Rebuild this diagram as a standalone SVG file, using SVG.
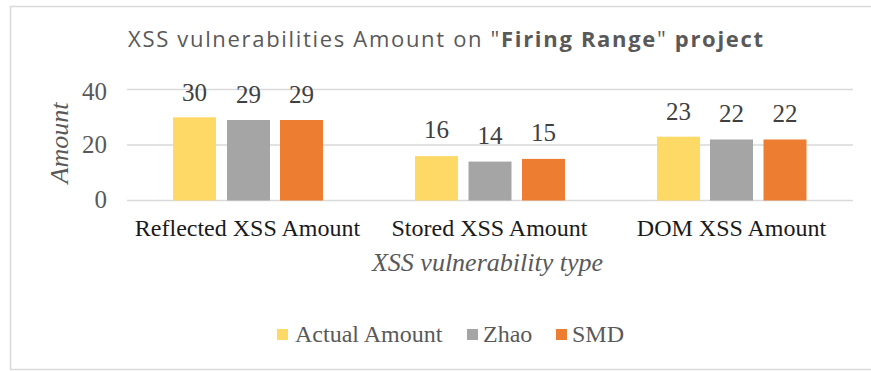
<svg xmlns="http://www.w3.org/2000/svg" width="871" height="371" viewBox="0 0 871 371">
  <style>
    .frame { fill: #ffffff; stroke: #d9d9d9; stroke-width: 1.5; }
    .grid { stroke: #d9d9d9; stroke-width: 1.5; }
    .title { font-family: "Open Sans", "Liberation Sans", sans-serif; font-size: 22px; fill: #595959; }
    .title .b { font-weight: bold; }
    .tick { font-family: "Liberation Serif", serif; font-size: 25px; fill: #595959; text-anchor: end; }
    .val { font-family: "Liberation Serif", serif; font-size: 25px; fill: #404040; text-anchor: middle; }
    .cat { font-family: "Liberation Serif", serif; font-size: 24px; fill: #1a1a1a; text-anchor: middle; }
    .axt { font-family: "Liberation Serif", serif; font-size: 26px; font-style: italic; fill: #595959; text-anchor: middle; }
    .leg { font-family: "Liberation Serif", serif; font-size: 24px; fill: #595959; }
    .s1 { fill: #ffd966; }
    .s2 { fill: #a5a5a5; }
    .s3 { fill: #ed7d31; }
  </style>

  <rect class="frame" x="10.5" y="6.5" width="870" height="363"/>

  <text class="title" x="128" y="47" textLength="635" lengthAdjust="spacing">XSS vulnerabilities Amount on "<tspan class="b">Firing Range</tspan>" <tspan class="b">project</tspan></text>

  <!-- value axis -->
  <g id="value-axis">
    <line class="grid" x1="127" y1="89.5" x2="853" y2="89.5"/>
    <line class="grid" x1="127" y1="145" x2="853" y2="145"/>
    <line class="grid" x1="127" y1="200.5" x2="853" y2="200.5"/>
    <text class="tick" x="107" y="100">40</text>
    <text class="tick" x="107" y="153">20</text>
    <text class="tick" x="107" y="208">0</text>
    <text class="axt" transform="translate(68,143) rotate(-90)">Amount</text>
  </g>

  <!-- Reflected XSS -->
  <g id="reflected">
    <rect class="s1" x="173" y="117.3" width="43" height="83.2"/>
    <rect class="s2" x="227" y="120" width="43" height="80.5"/>
    <rect class="s3" x="280" y="120" width="43" height="80.5"/>
    <text class="val" x="194.5" y="101">30</text>
    <text class="val" x="248.5" y="103">29</text>
    <text class="val" x="301.5" y="103">29</text>
    <text class="cat" x="247.5" y="236">Reflected XSS Amount</text>
  </g>

  <!-- Stored XSS -->
  <g id="stored">
    <rect class="s1" x="415" y="156.1" width="43" height="44.4"/>
    <rect class="s2" x="468.5" y="161.6" width="43" height="38.9"/>
    <rect class="s3" x="522" y="158.9" width="43" height="41.6"/>
    <text class="val" x="436.5" y="138">16</text>
    <text class="val" x="490" y="144">14</text>
    <text class="val" x="543.5" y="141">15</text>
    <text class="cat" x="489.5" y="236">Stored XSS Amount</text>
  </g>

  <!-- DOM XSS -->
  <g id="dom">
    <rect class="s1" x="657" y="136.7" width="43" height="63.8"/>
    <rect class="s2" x="710" y="139.5" width="43" height="61"/>
    <rect class="s3" x="763.5" y="139.5" width="43" height="61"/>
    <text class="val" x="678.5" y="120">23</text>
    <text class="val" x="731.5" y="122">22</text>
    <text class="val" x="785" y="122">22</text>
    <text class="cat" x="731.5" y="236">DOM XSS Amount</text>
  </g>

  <text class="axt" x="487.5" y="271">XSS vulnerability type</text>

  <!-- legend -->
  <g id="legend">
    <rect class="s1" x="277" y="329" width="11" height="11"/>
    <text class="leg" x="295" y="342">Actual Amount</text>
    <rect class="s2" x="467" y="329" width="11" height="11"/>
    <text class="leg" x="483" y="342">Zhao</text>
    <rect class="s3" x="556" y="329" width="11" height="11"/>
    <text class="leg" x="572" y="342">SMD</text>
  </g>
</svg>
